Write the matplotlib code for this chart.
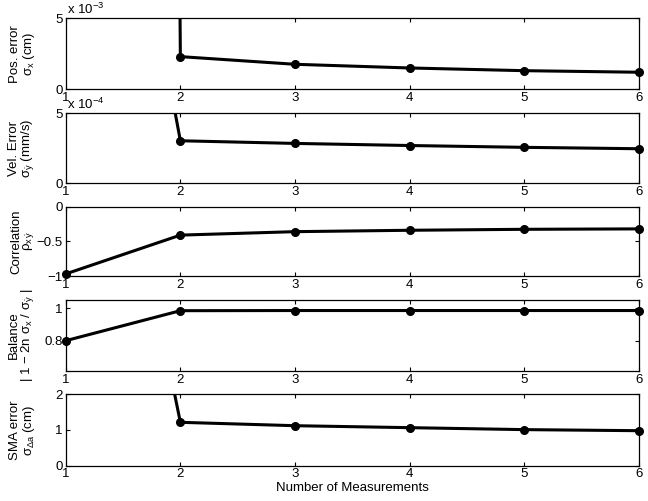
import matplotlib.pyplot as plt
import numpy as np

plt.rcParams['font.family'] = ['Liberation Sans', 'DejaVu Sans']
plt.rcParams['mathtext.fontset'] = 'custom'
plt.rcParams['mathtext.rm'] = 'Liberation Sans'
plt.rcParams['mathtext.it'] = 'Liberation Sans'

n_meas = [1, 2, 3, 4, 5, 6]

# values (the first point of some panels is off-scale)
pos_err = [1.0, 2.30e-3, 1.76e-3, 1.50e-3, 1.31e-3, 1.20e-3]      # cm
vel_err = [47e-4, 3.04e-4, 2.85e-4, 2.70e-4, 2.57e-4, 2.47e-4]     # mm/s
corr = [-0.97, -0.41, -0.36, -0.34, -0.326, -0.32]
balance = [0.80, 0.985, 0.986, 0.986, 0.986, 0.986]
sma_err = [17.0, 1.215, 1.12, 1.065, 1.01, 0.98]                  # cm

ylabels = ['Pos. error\n$\\sigma_x$ (cm)',
           'Vel. Error\n$\\sigma_{\\dot{y}}$ (mm/s)',
           'Correlation\n$\\rho_{x\\,\\dot{y}}$',
           'Balance\n| 1 $-$ 2n $\\sigma_x$ / $\\sigma_{\\dot{y}}$ |',
           'SMA error\n$\\sigma_{\\Delta a}$ (cm)']
series = [pos_err, vel_err, corr, balance, sma_err]
ylims = [(0, 5e-3), (0, 5e-4), (-1, 0), (0.613, 1.051), (0, 2)]
yticks = [[0, 5e-3], [0, 5e-4], [-1, -0.5, 0], [0.8, 1], [0, 1, 2]]
ytlabels = [['0', '5'], ['0', '5'], ['\u22121', '\u22120.5', '0'], ['0.8', '1'], ['0', '1', '2']]
offsets = ['x 10$^{-3}$', 'x 10$^{-4}$', None, None, None]

# panel boxes in figure fractions [left, bottom, width, height]
boxes = [[0.1014, 0.8218, 0.8847, 0.1417],
         [0.1014, 0.6341, 0.8847, 0.1397],
         [0.1014, 0.4491, 0.8847, 0.1383],
         [0.1014, 0.2595, 0.8847, 0.1417],
         [0.1014, 0.0705, 0.8847, 0.1425]]

fig = plt.figure(figsize=(6.48, 5.01), dpi=100)
x = np.array(n_meas)
for i in range(5):
    ax = fig.add_axes(boxes[i])
    y = np.array(series[i])
    lo, hi = ylims[i]
    ax.plot(x, y, color='black', linewidth=2.2)
    inside = (y >= lo - 1e-9) & (y <= hi + 1e-9)
    ax.plot(x[inside], y[inside], 'o', color='black', markersize=5.5, clip_on=False)
    ax.set_xlim(1, 6)
    ax.set_ylim(lo, hi)
    ax.set_xticks(n_meas)
    ax.set_yticks(yticks[i])
    ax.set_yticklabels(ytlabels[i])
    ax.tick_params(direction='in', length=3, width=0.8, top=True, right=True,
                   labelsize=9.5, pad=2)
    for s in ax.spines.values():
        s.set_linewidth(0.9)
    ax.set_ylabel(ylabels[i], fontsize=9.5, linespacing=1.0)
    ax.yaxis.set_label_coords(-0.05, 0.5)
    if offsets[i]:
        ax.text(0.003, 1.015, offsets[i], transform=ax.transAxes, fontsize=9.5,
                ha='left', va='bottom')
    if i == 4:
        ax.set_xlabel('Number of Measurements', fontsize=9.5, labelpad=1)

fig.savefig('out.png', dpi=100)
